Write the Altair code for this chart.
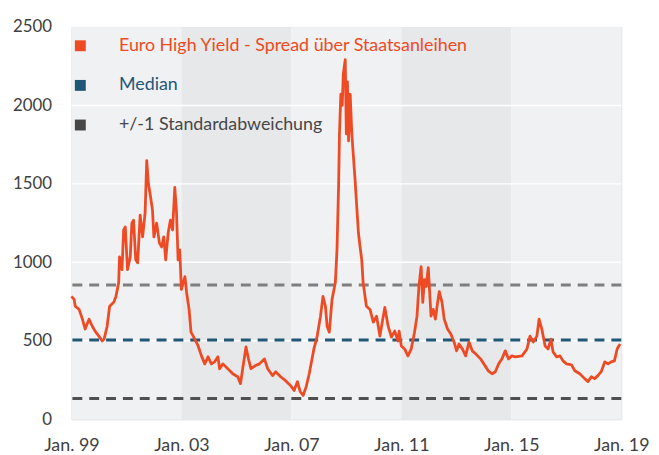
import altair as alt
import pandas as pd

# ---- data ----
years = [
    1999.00, 1999.10, 1999.14, 1999.28, 1999.40, 1999.50, 1999.64, 1999.76, 1999.86, 2000.00,
    2000.12, 2000.19, 2000.30, 2000.39, 2000.54, 2000.62, 2000.72, 2000.75, 2000.84, 2000.90,
    2000.96, 2001.04, 2001.14, 2001.20, 2001.26, 2001.34, 2001.41, 2001.50, 2001.59, 2001.68,
    2001.74, 2001.80, 2001.86, 2001.95, 2002.00, 2002.10, 2002.20, 2002.28, 2002.36, 2002.43,
    2002.52, 2002.60, 2002.68, 2002.76, 2002.82, 2002.88, 2002.94, 2003.00, 2003.13, 2003.19,
    2003.28, 2003.35, 2003.43, 2003.61, 2003.73, 2003.85, 2003.97, 2004.09, 2004.21, 2004.33,
    2004.39, 2004.51, 2004.69, 2004.87, 2005.05, 2005.15, 2005.23, 2005.35, 2005.44, 2005.53,
    2005.68, 2005.84, 2006.02, 2006.14, 2006.32, 2006.43, 2006.61, 2006.79, 2006.97, 2007.10,
    2007.22, 2007.32, 2007.43, 2007.54, 2007.65, 2007.82, 2007.94, 2008.06, 2008.15, 2008.24,
    2008.30, 2008.38, 2008.48, 2008.60, 2008.66, 2008.72, 2008.75, 2008.80, 2008.85, 2008.89,
    2008.96, 2009.00, 2009.04, 2009.08, 2009.14, 2009.20, 2009.26, 2009.32, 2009.38, 2009.44,
    2009.50, 2009.56, 2009.61, 2009.73, 2009.86, 2009.98, 2010.10, 2010.22, 2010.40, 2010.52,
    2010.64, 2010.76, 2010.88, 2010.92, 2011.00, 2011.12, 2011.24, 2011.36, 2011.48, 2011.57,
    2011.64, 2011.72, 2011.78, 2011.84, 2011.90, 2011.98, 2012.08, 2012.16, 2012.24, 2012.32,
    2012.38, 2012.48, 2012.56, 2012.68, 2012.80, 2012.92, 2013.01, 2013.10, 2013.22, 2013.34,
    2013.46, 2013.58, 2013.70, 2013.88, 2014.00, 2014.16, 2014.30, 2014.42, 2014.54, 2014.66,
    2014.78, 2014.90, 2015.02, 2015.14, 2015.39, 2015.57, 2015.68, 2015.80, 2015.93, 2016.01,
    2016.11, 2016.23, 2016.34, 2016.44, 2016.52, 2016.65, 2016.77, 2016.88, 2017.01, 2017.19,
    2017.31, 2017.49, 2017.67, 2017.79, 2017.91, 2018.03, 2018.15, 2018.27, 2018.40, 2018.52,
    2018.63, 2018.75, 2018.85, 2018.91, 2018.96,
]
spread = [
    783, 764, 720, 700, 638, 575, 638, 593, 562, 530,
    499, 511, 593, 720, 745, 783, 871, 1035, 953, 1206,
    1225, 953, 1035, 1250, 1269, 1016, 997, 1300, 1162, 1313,
    1648, 1502, 1439, 1332, 1162, 1250, 1124, 1098, 1162, 1016,
    1187, 1269, 1206, 1477, 1332, 1016, 1080, 827, 909, 808,
    700, 555, 530, 467, 404, 353, 398, 353, 366, 398,
    322, 353, 322, 290, 271, 227, 322, 461, 385, 322,
    341, 353, 385, 322, 278, 303, 271, 246, 215, 183,
    240, 177, 152, 208, 290, 448, 530, 657, 783, 720,
    593, 555, 764, 871, 1080, 1502, 1818, 2071, 2000, 2200,
    2292, 1818, 2150, 1774, 2071, 1818, 1667, 1521, 1351, 1187,
    1098, 1016, 871, 720, 700, 619, 657, 530, 713, 593,
    524, 562, 499, 562, 467, 448, 404, 448, 555, 657,
    846, 972, 745, 890, 846, 966, 657, 700, 638, 745,
    814, 745, 638, 575, 543, 492, 436, 480, 448, 404,
    492, 436, 417, 385, 353, 309, 290, 303, 353, 385,
    436, 385, 404, 398, 404, 448, 530, 492, 530, 638,
    575, 467, 448, 511, 429, 398, 404, 372, 353, 347,
    309, 290, 259, 240, 271, 259, 278, 303, 366, 353,
    366, 372, 448, 467, 480,
]
assert len(years) == len(spread)

median_value = 505
upper_value = 855
lower_value = 133

band_start = [1999, 2003, 2007, 2011, 2015]
band_end = [2003, 2007, 2011, 2015, 2019]
band_shade = ["light", "dark", "light", "dark", "light"]
grid_values = [500, 1000, 1500, 2000]
x_ticks = [1999, 2003, 2007, 2011, 2015, 2019]
y_ticks = [0, 500, 1000, 1500, 2000, 2500]

series_names = [
    "Euro High Yield - Spread über Staatsanleihen",
    "Median",
    "+/-1 Standardabweichung",
]
series_colors = ["#ee4a24", "#1f5776", "#474747"]

# ---- tables ----
line_df = pd.DataFrame({"year": years, "value": spread, "series": series_names[0]})
band_df = pd.DataFrame({"start": band_start, "end": band_end, "shade": band_shade,
                        "lo": 0, "hi": 2500})
grid_df = pd.DataFrame({"value": grid_values})
median_df = pd.DataFrame({"value": [median_value], "series": [series_names[1]]})
upper_df = pd.DataFrame({"value": [upper_value]})
lower_df = pd.DataFrame({"value": [lower_value]})

FONT = "Lato"
x_scale = alt.Scale(domain=[1999, 2019], nice=False, zero=False)
y_scale = alt.Scale(domain=[0, 2500], nice=False)
color_scale = alt.Scale(domain=series_names, range=series_colors)

x_axis = alt.Axis(values=x_ticks, labelExpr="'Jan. ' + slice(toString(datum.value), 2)",
                  title=None, grid=False, domain=False, ticks=False, labelFlush=False,
                  labelPadding=18, labelFont=FONT, labelFontSize=18, labelColor="#404040")
y_axis = alt.Axis(values=y_ticks, format="d", title=None, grid=False, domain=False,
                  ticks=False, labelPadding=20, labelFont=FONT, labelFontSize=17,
                  labelColor="#404040")

legend = alt.Legend(
    title=None, orient="none", legendX=0, legendY=10, direction="vertical",
    symbolType="square", symbolSize=121, symbolStrokeWidth=0, symbolOpacity=1,
    symbolFillColor={"expr": "scale('color', datum.value)"},
    labelColor={"expr": "scale('color', datum.value)"},
    labelFont=FONT, labelFontSize=18, labelOffset=30, rowPadding=22, padding=0,
    labelLimit=600,
)

bands = alt.Chart(band_df).mark_rect().encode(
    x=alt.X("start:Q", scale=x_scale, axis=x_axis),
    x2="end:Q",
    y=alt.Y("lo:Q", scale=y_scale, axis=y_axis),
    y2="hi:Q",
    fill=alt.Fill("shade:N", scale=alt.Scale(domain=["light", "dark"],
                                             range=["#f0f1f3", "#e7e8ea"]), legend=None),
)

grid = alt.Chart(grid_df).mark_rule(color="white", strokeWidth=1.5).encode(
    y=alt.Y("value:Q", scale=y_scale, axis=y_axis)
)

upper = alt.Chart(upper_df).mark_rule(strokeDash=[10, 7], strokeWidth=3).encode(
    y=alt.Y("value:Q", scale=y_scale, axis=y_axis), color=alt.value("#7f7f7f")
)
lower = alt.Chart(lower_df).mark_rule(strokeDash=[10, 7], strokeWidth=3).encode(
    y=alt.Y("value:Q", scale=y_scale, axis=y_axis), color=alt.value("#505050")
)
median = alt.Chart(median_df).mark_rule(strokeDash=[10, 7], strokeWidth=3).encode(
    y=alt.Y("value:Q", scale=y_scale, axis=y_axis),
    color=alt.Color("series:N", scale=color_scale, legend=legend),
)

line = alt.Chart(line_df).mark_line(strokeWidth=2.8, strokeJoin="round").encode(
    x=alt.X("year:Q", scale=x_scale, axis=x_axis),
    y=alt.Y("value:Q", scale=y_scale, axis=y_axis),
    color=alt.Color("series:N", scale=color_scale, legend=legend),
)

chart = alt.layer(bands, grid, upper, lower, median, line).properties(
    width=555, height=396,
    autosize=alt.AutoSizeParams(type="none"),
    padding={"left": 64, "top": 17, "right": 30, "bottom": 40},
).configure_view(stroke=None).configure(background="white")

chart.save("out.html", embed_options={"renderer": "svg", "actions": False})
